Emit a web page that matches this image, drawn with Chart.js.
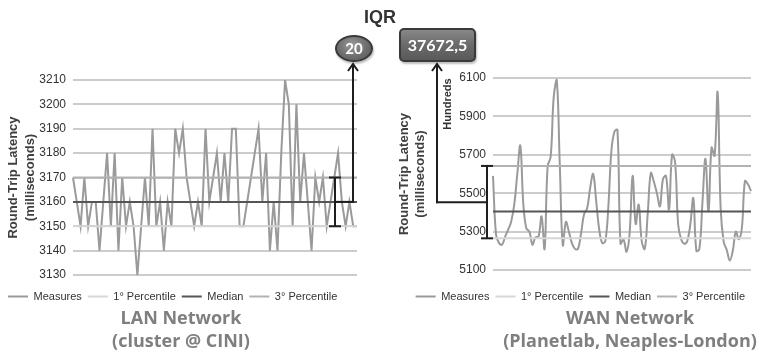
<!DOCTYPE html>
<html>
<head>
<meta charset="utf-8">
<script src="https://cdn.jsdelivr.net/npm/chart.js@4.4.1/dist/chart.umd.min.js"></script>
<style>
  html, body { margin: 0; padding: 0; background: #ffffff; }
  #wrap { position: relative; width: 765px; height: 358px; overflow: hidden; background: #fff; }
  #lanCanvas { position: absolute; left: 0; top: 0; }
  #wanCanvas { position: absolute; left: 385px; top: 0; }
  .ttl { position: absolute; font-family: "Open Sans", sans-serif; font-weight: bold; font-size: 18px;
         color: #7f7f7f; line-height: 23px; text-align: center; white-space: nowrap; }
  #iqr { position: absolute; left: 330px; width: 100px; top: 8px; text-align: center;
         font-family: "Liberation Sans", Arial, sans-serif; font-weight: bold; font-size: 18px;
         line-height: 18px; color: #333; }
  #ell { position: absolute; left: 335px; top: 35px; width: 38px; height: 27px; box-sizing: border-box;
         border-radius: 50%; border: 2px solid #3a3a3a;
         background: radial-gradient(ellipse at 45% 35%, #9a9a9a 0%, #6e6e6e 55%, #555 100%);
         color: #fff; font-family: Lato, sans-serif; font-weight: bold; font-size: 15px;
         line-height: 23px; text-align: center; box-shadow: 1px 2px 2px rgba(0,0,0,0.25); }
  #rect { position: absolute; left: 399px; top: 28px; width: 77px; height: 34px; box-sizing: border-box;
          border-radius: 5px; border: 2px solid #3a3a3a;
          background: linear-gradient(#888 0%, #6a6a6a 50%, #5a5a5a 100%);
          color: #fff; font-family: Lato, sans-serif; font-weight: bold; font-size: 16px;
          line-height: 30px; text-align: center; box-shadow: 1px 2px 2px rgba(0,0,0,0.25); }
</style>
</head>
<body>
<div id="wrap">
  <canvas id="lanCanvas" width="366" height="358"></canvas>
  <canvas id="wanCanvas" width="380" height="358"></canvas>
  <div id="iqr">IQR</div>
  <div id="ell">20</div>
  <div id="rect">37672,5</div>
  <div class="ttl" style="left:81px;width:200px;top:306px;">LAN Network</div>
  <div class="ttl" style="left:81px;width:200px;top:329px;">(cluster @ CINI)</div>
  <div class="ttl" style="left:480px;width:300px;top:306px;">WAN Network</div>
  <div class="ttl" style="left:480px;width:300px;top:329px;">(Planetlab, Neaples-London)</div>
</div>
<script>
// ---------------- DATA ----------------
const seriesNames = ['Measures', '1° Percentile', 'Median', '3° Percentile'];

// LAN (cluster @ CINI) round-trip latency, milliseconds
const lanMeasures = [
  3170,3160,3150,3170,3150,3160,3160,3140,3160,3180,
  3150,3180,3140,3170,3150,3160,3150,3130,3150,3170,
  3150,3190,3150,3160,3140,3160,3150,3190,3180,3190,
  3170,3160,3150,3160,3150,3190,3160,3170,3180,3160,
  3180,3160,3190,3190,3150,3150,3160,3170,3180,3190,
  3160,3180,3140,3160,3140,3180,3210,3200,3150,3200,
  3160,3180,3160,3140,3170,3160,3170,3150,3160,3170,
  3180,3160,3150,3160,3150,3150
];
const lanLabels = lanMeasures.map((_, i) => i + 1);
const lanQ1 = 3150;
const lanMedian = 3160;
const lanQ3 = 3170;
const lanTickValues = [3130, 3140, 3150, 3160, 3170, 3180, 3190, 3200, 3210];

// WAN (Planetlab, Neaples-London) round-trip latency, milliseconds (axis in hundreds)
const wanMeasures = [
  5590,5284,5240,5232,5274,5310,5353,5440,5600,5747,
  5440,5316,5300,5232,5270,5274,5379,5210,5640,5690,
  6000,6090,5650,5230,5350,5300,5240,5210,5210,5290,
  5390,5420,5526,5600,5458,5310,5240,5250,5430,5720,
  5820,5830,5237,5258,5195,5290,5590,5340,5440,5250,
  5210,5400,5605,5560,5500,5432,5574,5590,5416,5700,
  5660,5337,5260,5237,5250,5337,5474,5200,5210,5450,
  5679,5405,5737,5695,6026,5421,5247,5205,5150,5200,
  5300,5260,5320,5563,5547,5511
];
const wanLabels = wanMeasures.map((_, i) => i + 1);
const wanQ1 = 5265;
const wanMedian = 5405;
const wanQ3 = 5642;
const wanTickValues = [5100, 5300, 5500, 5700, 5900, 6100];

// ---------------- STYLE ----------------
Chart.defaults.font.family = '"Liberation Sans", Arial, sans-serif';
Chart.defaults.color = '#333';

const colMeasures = '#9a9a9a';
const colQ1 = '#d6d6d6';
const colMedian = '#555555';
const colQ3 = '#b2b2b2';
const gridCol = '#cccccc';

function buildDatasets(labels, measures, q1, med, q3, tension) {
  const flat = v => labels.map(() => v);
  const common = { pointRadius: 0, pointHoverRadius: 0, borderWidth: 2, fill: false };
  return [
    Object.assign({ label: seriesNames[0], data: measures, borderColor: colMeasures, backgroundColor: colMeasures, tension: tension, order: 3 }, common),
    Object.assign({ label: seriesNames[1], data: flat(q1), borderColor: colQ1, backgroundColor: colQ1, order: 2 }, common),
    Object.assign({ label: seriesNames[2], data: flat(med), borderColor: colMedian, backgroundColor: colMedian, order: 0 }, common),
    Object.assign({ label: seriesNames[3], data: flat(q3), borderColor: colQ3, backgroundColor: colQ3, order: 1 }, common)
  ];
}

function legendOpts(align) {
  return {
    position: 'bottom',
    align: align,
    labels: {
      usePointStyle: true,
      pointStyle: 'line',
      pointStyleWidth: 20,
      padding: 6,
      color: '#333',
      font: { size: 11 },
      sort: (a, b) => a.datasetIndex - b.datasetIndex
    }
  };
}

function seg(ctx, x1, y1, x2, y2) { ctx.beginPath(); ctx.moveTo(x1, y1); ctx.lineTo(x2, y2); ctx.stroke(); }
function arrowHead(ctx, x, tipY) {
  ctx.beginPath(); ctx.moveTo(x - 5, tipY + 7); ctx.lineTo(x, tipY); ctx.lineTo(x + 5, tipY + 7); ctx.stroke();
}
const ARROW_TIP = 64;

const lanIQR = {
  id: 'lanIQR',
  afterDatasetsDraw(chart) {
    const { ctx, chartArea: a, scales: { y } } = chart;
    const y1 = y.getPixelForValue(lanQ1), y3 = y.getPixelForValue(lanQ3), ym = (y1 + y3) / 2;
    const bx = a.right - 22, ax = a.right - 4;
    ctx.save();
    ctx.strokeStyle = '#1e1e1e'; ctx.lineWidth = 2; ctx.lineCap = 'butt';
    seg(ctx, bx, y3, bx, y1);
    seg(ctx, bx - 6, y3, bx + 6, y3);
    seg(ctx, bx - 6, y1, bx + 6, y1);
    seg(ctx, bx, ym, ax + 1, ym);
    seg(ctx, ax, ym + 1, ax, ARROW_TIP);
    arrowHead(ctx, ax, ARROW_TIP);
    ctx.restore();
  }
};

const wanIQR = {
  id: 'wanIQR',
  afterDatasetsDraw(chart) {
    const { ctx, chartArea: a, scales: { y } } = chart;
    const y1 = y.getPixelForValue(wanQ1), y3 = y.getPixelForValue(wanQ3), ym = (y1 + y3) / 2;
    const bx = a.left - 6, ax = a.left - 56;
    ctx.save();
    ctx.strokeStyle = '#1e1e1e'; ctx.lineWidth = 2;
    seg(ctx, bx, y3, bx, y1);
    seg(ctx, bx - 6, y3, bx + 6, y3);
    seg(ctx, bx - 6, y1, bx + 6, y1);
    seg(ctx, bx, ym, ax - 1, ym);
    seg(ctx, ax, ym + 1, ax, ARROW_TIP);
    arrowHead(ctx, ax, ARROW_TIP);
    // display-units label
    ctx.fillStyle = '#333';
    ctx.font = 'bold 11px "Liberation Sans", Arial, sans-serif';
    ctx.textAlign = 'center'; ctx.textBaseline = 'middle';
    ctx.translate(a.left - 45, a.top + 26);
    ctx.rotate(-Math.PI / 2);
    ctx.fillText('Hundreds', 0, 0);
    ctx.restore();
  }
};

function yScale(min, max, tickValues, width, titlePadTop) {
  return {
    min: min, max: max,
    afterBuildTicks: axis => { axis.ticks = tickValues.map(v => ({ value: v })); },
    afterFit: axis => { axis.width = width; },
    grid: { color: gridCol, lineWidth: 2, drawTicks: false },
    border: { display: false },
    ticks: { padding: 7, color: '#333', font: { size: 12 }, callback: v => String(v) },
    title: {
      display: true,
      text: ['Round-Trip Latency', '(milliseconds)'],
      color: '#404040',
      font: { size: 13, weight: 'bold', lineHeight: 1.3 },
      padding: { top: titlePadTop, bottom: 0 }
    }
  };
}
function xScale(gap) {
  return {
    type: 'category',
    grid: { display: false },
    border: { display: false },
    ticks: { display: false },
    afterFit: axis => { axis.height = gap; }
  };
}

new Chart(document.getElementById('lanCanvas'), {
  type: 'line',
  data: { labels: lanLabels, datasets: buildDatasets(lanLabels, lanMeasures, lanQ1, lanMedian, lanQ3, 0) },
  options: {
    responsive: false, animation: false,
    layout: { padding: { left: 2, right: 9, top: 80, bottom: 46 } },
    plugins: { legend: legendOpts('start'), tooltip: { enabled: false } },
    scales: { x: xScale(10), y: yScale(3130, 3210, lanTickValues, 71, 3) }
  },
  plugins: [lanIQR]
});

new Chart(document.getElementById('wanCanvas'), {
  type: 'line',
  data: { labels: wanLabels, datasets: buildDatasets(wanLabels, wanMeasures, wanQ1, wanMedian, wanQ3, 0.4) },
  options: {
    responsive: false, animation: false,
    layout: { padding: { left: 0, right: 14, top: 78, bottom: 46 } },
    plugins: { legend: legendOpts('end'), tooltip: { enabled: false } },
    scales: { x: xScale(15), y: yScale(5100, 6100, wanTickValues, 108, 10.5) }
  },
  plugins: [wanIQR]
});
</script>
</body>
</html>
